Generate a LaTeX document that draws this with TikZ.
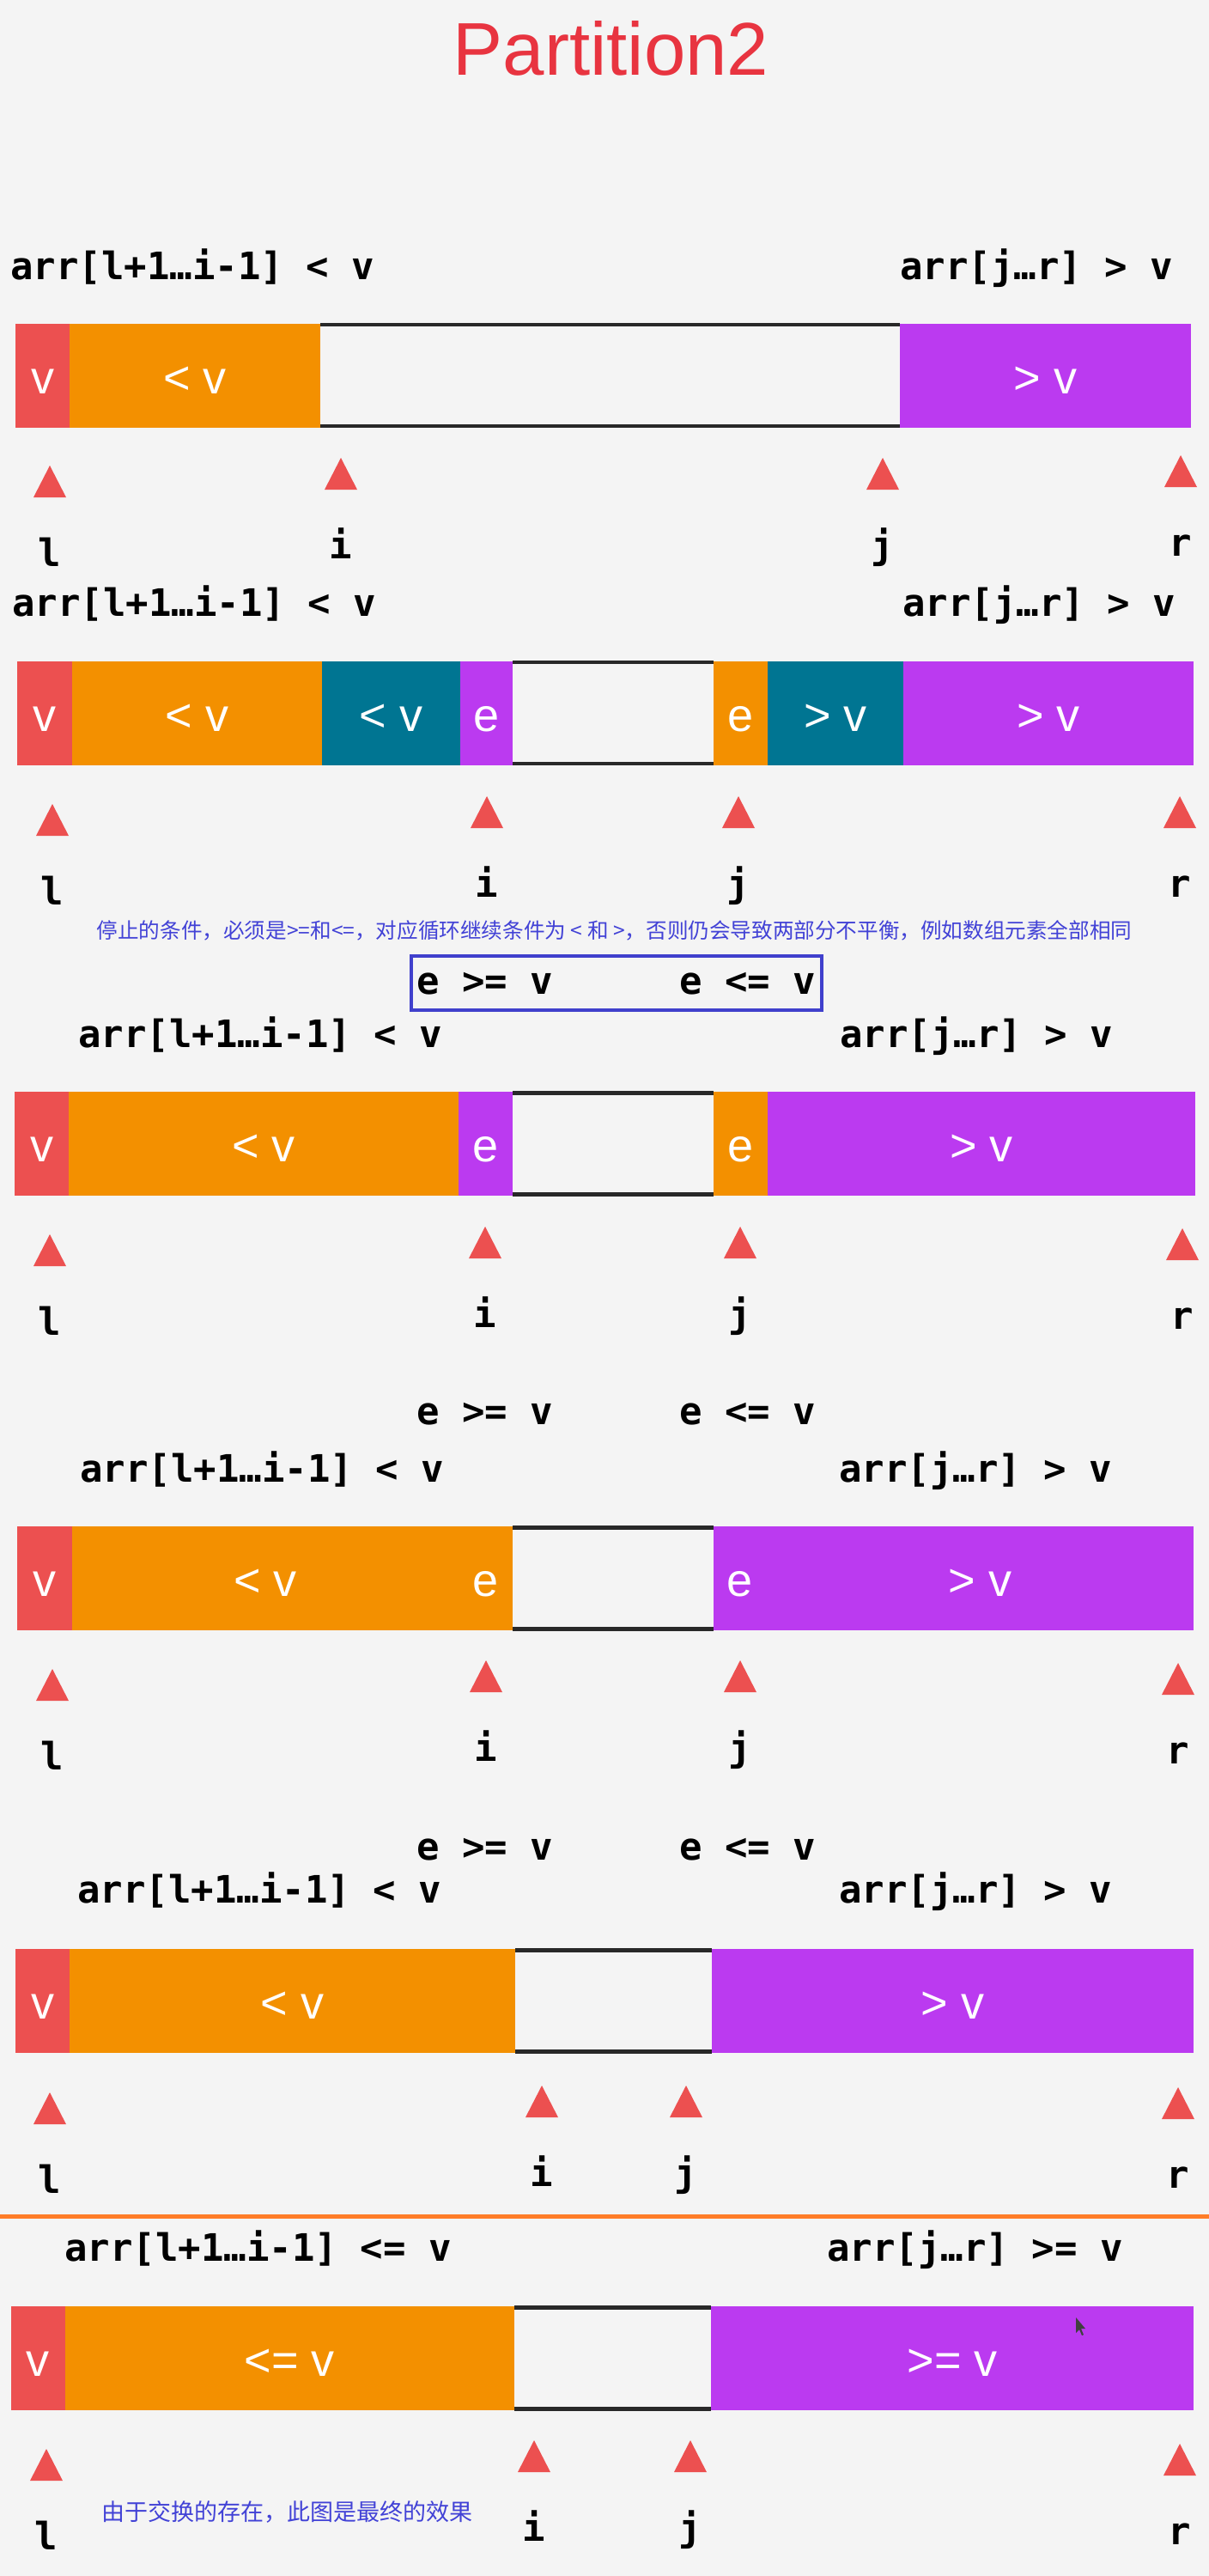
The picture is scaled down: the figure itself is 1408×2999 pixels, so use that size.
\documentclass[tikz,border=0pt]{standalone}
\usepackage{fontspec}
\setmainfont{Liberation Sans}
\newfontfamily\codefamily{DejaVu Sans Mono}
\newfontfamily\cjkfamily{Noto Sans CJK SC}
\usetikzlibrary{fit}

\definecolor{bggray}{RGB}{244,244,244}
\definecolor{cred}{RGB}{236,80,80}
\definecolor{corange}{RGB}{243,144,0}
\definecolor{cpurple}{RGB}{187,58,240}
\definecolor{cteal}{RGB}{0,117,146}
\definecolor{titlered}{RGB}{232,52,64}
\definecolor{noteblue}{RGB}{66,66,214}
\definecolor{boxblue}{RGB}{64,64,204}
\definecolor{sepcol}{RGB}{255,125,40}
\definecolor{gapblack}{RGB}{40,40,40}

\newcommand\codefnt{\codefamily\bfseries\fontsize{22}{26}\selectfont}
\newcommand\cellfnt{\fontsize{27}{32}\selectfont}

\begin{document}
\begin{tikzpicture}
	[%
	x=0.5pt, y=-0.5pt,%
	cell/.style   ={rectangle,	fill=#1,	text=white,	inner sep=0pt,	minimum height=60.5pt,	text height=21pt,	text depth=0pt,	font=\cellfnt},%
	code/.style   ={inner sep=0pt,	anchor=base west,	font=\codefnt},%
	ptrlbl/.style ={inner sep=0pt,	anchor=base,	font=\codefnt},%
	ptr/.style    ={fill=cred},%
	gap/.style    ={draw=gapblack,	line width=2.2pt},%
	note/.style   ={inner sep=0pt,	text=noteblue},%
	condbox/.style={draw=boxblue,	line width=2pt,	inner xsep=3pt,	inner ysep=9pt},%
	]

	% canvas
	\fill [bggray] (0,0) rectangle (1408,2999);
	\useasboundingbox (0,0) rectangle (1408,2999);

	\node (title) at (711.5,87) [anchor=base, inner sep=0pt, text=titlered, font=\fontsize{43.5}{50}\selectfont] {Partition2};

	% panel 1
	\node[code] (p1left)  at (12,325)   {arr[l+1…i-1] < v};
	\node[code] (p1right) at (1048,325) {arr[j…r] > v};
	\foreach \xa/\xb/\col/\txt [count=\k] in {18/81/cred/v, 81/373/corange/{< v}, 1048/1387/cpurple/{> v}}
		\node[cell=\col, minimum width={(\xb-\xa)*0.5pt}] (p1c\k) at ({(\xa+\xb)/2},437) {\txt};
	\foreach \n/\x/\y in {l/58/579, i/397/570, j/1028/570, r/1375/567}
	{
		\fill[ptr] (\x-19,\y) -- (\x,\y-37) -- (\x+19,\y) -- cycle;
		\node[ptrlbl] (p1\n) at (\x,\y+80) {\n};
	}

	% panel 2
	\node[code] (p2left)  at (14,717.5)   {arr[l+1…i-1] < v};
	\node[code] (p2right) at (1051,717.5) {arr[j…r] > v};
	\foreach \xa/\xb/\col/\txt [count=\k] in {20/84/cred/v, 84/375/corange/{< v}, 375/536/cteal/{< v}, 536/597/cpurple/e,%
												831/894/corange/e, 894/1052/cteal/{> v}, 1052/1390/cpurple/{> v}}
		\node[cell=\col, minimum width={(\xb-\xa)*0.5pt}] (p2c\k) at ({(\xa+\xb)/2},830) {\txt};
	\foreach \n/\x/\y in {l/61/973, i/567/964, j/860/964, r/1374/964}
	{
		\fill[ptr] (\x-19,\y) -- (\x,\y-37) -- (\x+19,\y) -- cycle;
		\node[ptrlbl] (p2\n) at (\x,\y+80) {\n};
	}
	\node[note, anchor=base, font=\cjkfamily\fontsize{12.3}{15}\selectfont] (note1) at (715.5,1092)
		{停止的条件，必须是>=和<=，对应循环继续条件为 < 和 >，否则仍会导致两部分不平衡，例如数组元素全部相同};
	\node[code] (p2ge) at (485,1157) {e >= v};
	\node[code] (p2le) at (791,1157) {e <= v};
	\node[condbox, fit=(p2ge) (p2le)] (p2box) {};

	% panel 3
	\node[code] (p3left)  at (91,1219)  {arr[l+1…i-1] < v};
	\node[code] (p3right) at (978,1219) {arr[j…r] > v};
	\foreach \xa/\xb/\col/\txt [count=\k] in {17/80/cred/v, 80/534/corange/{< v}, 534/597/cpurple/e, 831/894/corange/e, 894/1392/cpurple/{> v}}
		\node[cell=\col, minimum width={(\xb-\xa)*0.5pt}] (p3c\k) at ({(\xa+\xb)/2},1331.5) {\txt};
	\foreach \n/\x/\y in {l/58/1474, i/565/1465, j/862/1465, r/1377/1467}
	{
		\fill[ptr] (\x-19,\y) -- (\x,\y-37) -- (\x+19,\y) -- cycle;
		\node[ptrlbl] (p3\n) at (\x,\y+80) {\n};
	}

	% panel 4
	\node[code] (p4ge) at (485,1658) {e >= v};
	\node[code] (p4le) at (791,1658) {e <= v};
	\node[code] (p4left)  at (93,1725)  {arr[l+1…i-1] < v};
	\node[code] (p4right) at (977,1725) {arr[j…r] > v};
	\foreach \xa/\xb/\col/\txt [count=\k] in {20/84/cred/v, 84/534/corange/{< v}, 534/597/corange/e, 831/893/cpurple/e, 893/1390/cpurple/{> v}}
		\node[cell=\col, minimum width={(\xb-\xa)*0.5pt}] (p4c\k) at ({(\xa+\xb)/2},1837.5) {\txt};
	\foreach \n/\x/\y in {l/61/1980, i/566/1970, j/862/1970, r/1372/1973}
	{
		\fill[ptr] (\x-19,\y) -- (\x,\y-37) -- (\x+19,\y) -- cycle;
		\node[ptrlbl] (p4\n) at (\x,\y+80) {\n};
	}

	% panel 5
	\node[code] (p5ge) at (485,2165) {e >= v};
	\node[code] (p5le) at (791,2165) {e <= v};
	\node[code] (p5left)  at (90,2215)  {arr[l+1…i-1] < v};
	\node[code] (p5right) at (977,2215) {arr[j…r] > v};
	\foreach \xa/\xb/\col/\txt [count=\k] in {18/81/cred/v, 81/600/corange/{< v}, 829/1390/cpurple/{> v}}
		\node[cell=\col, minimum width={(\xb-\xa)*0.5pt}] (p5c\k) at ({(\xa+\xb)/2},2329.5) {\txt};
	\foreach \n/\x/\y in {l/58/2473, i/631/2465, j/799/2465, r/1372/2467}
	{
		\fill[ptr] (\x-19,\y) -- (\x,\y-37) -- (\x+19,\y) -- cycle;
		\node[ptrlbl] (p5\n) at (\x,\y+80) {\n};
	}

	% separator
	\draw [sepcol, line width=2.5pt] (0,2580) -- (1408,2580);

	% panel 6 (final)
	\node[code] (p6left)  at (75,2632)  {arr[l+1…i-1] <= v};
	\node[code] (p6right) at (963,2632) {arr[j…r] >= v};
	\foreach \xa/\xb/\col/\txt [count=\k] in {13/76/cred/v, 76/599/corange/{<= v}, 828/1390/cpurple/{>= v}}
		\node[cell=\col, minimum width={(\xb-\xa)*0.5pt}] (p6c\k) at ({(\xa+\xb)/2},2745.5) {\txt};
	\foreach \n/\x/\y in {l/54/2888, i/622/2878, j/804/2878, r/1374/2882}
	{
		\fill[ptr] (\x-19,\y) -- (\x,\y-37) -- (\x+19,\y) -- cycle;
		\node[ptrlbl] (p6\n) at (\x,\y+80) {\n};
	}
	\node[note, anchor=base west, font=\cjkfamily\fontsize{13.5}{16}\selectfont] (note2) at (118,2934)
		{由于交换的存在，此图是最终的效果};

	% mouse pointer
	\fill [black!75] (1253,2698) -- (1253,2716) -- (1257,2712) -- (1260,2719) -- (1262,2718) -- (1259,2711) -- (1264,2711) -- cycle;

	% unprocessed part of each bar
	\foreach \a/\b in {p1c2/p1c3, p2c4/p2c5, p3c3/p3c4, p4c3/p4c4, p5c2/p5c3, p6c2/p6c3}
	{
		\draw[gap] ([yshift=-1pt]\a.north east) -- ([yshift=-1pt]\b.north west);
		\draw[gap] ([yshift=1pt]\a.south east) -- ([yshift=1pt]\b.south west);
	}

\end{tikzpicture}
\end{document}
